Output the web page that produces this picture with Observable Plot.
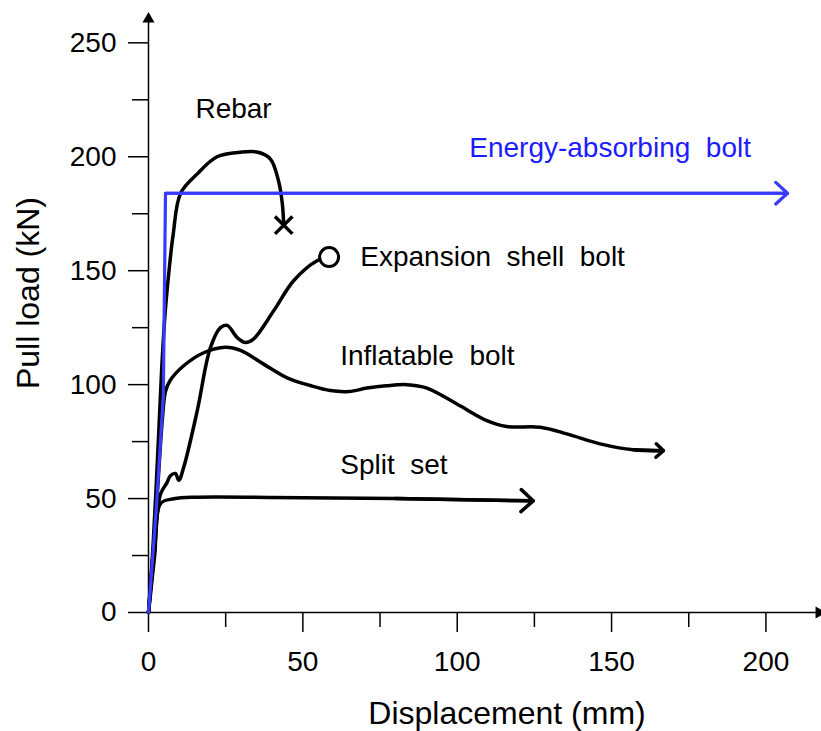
<!DOCTYPE html>
<html><head><meta charset="utf-8">
<script src="https://cdn.jsdelivr.net/npm/d3@7"></script>
<script src="https://cdn.jsdelivr.net/npm/@observablehq/plot@0.6"></script>
<style>body{margin:0;background:#fff} svg{display:block}</style>
</head><body><div id="chart"></div>
<script>
// Axis ticks
const xTicks = [0, 50, 100, 150, 200];
const xMinor = [25, 75, 125, 175];
const yTicks = [0, 50, 100, 150, 200, 250];
const yMinor = [25, 75, 125, 175, 225];
const xMax = 218, yMax = 262;

// Series (displacement mm, load kN)
const rebarX = [0, 1.5, 3, 4.2, 5.3, 6.5, 8, 10.4, 15.8, 22.2, 29.8, 35.5, 39.5, 42, 43.3, 43.8];
const rebarY = [0, 30, 70, 105, 130, 148, 166, 184, 192.5, 200, 202, 202, 199, 190, 180, 170];

const expX = [0, 2, 3.9, 6, 7.1, 8.7, 9.8, 11.4, 15.8, 20, 23.3, 25.5, 28.7, 31.4, 34, 40.6, 47, 54.6, 58.5];
const expY = [0, 28, 52, 57, 60, 61, 58, 63.7, 88.6, 116, 125, 126, 120.7, 118.5, 120, 132.5, 145.6, 154.4, 156];

const infX = [0, 2.5, 4.5, 5.5, 7.1, 11.4, 17.9, 24.9, 29.8, 37.3, 44.9, 52.4, 58.9, 65, 70.8, 77, 83.7, 90.2, 99.9, 109.6, 116, 126.9, 135.5, 146.3, 157.1, 166.8];
const infY = [0, 45, 85, 97, 102, 108.3, 114, 116.4, 115, 109, 103, 99.6, 97.4, 97, 98.5, 99.5, 100, 98.5, 91.5, 84.2, 81.6, 81.3, 78.4, 74, 71.4, 71];

const splitX = [0, 2, 3.9, 8.2, 15.8, 40, 80, 124.6];
const splitY = [0, 25, 47.8, 49.9, 50.6, 50.5, 50, 49];

const eabX = [0, 2.5, 4.8, 5.5, 207];
const eabY = [0, 45, 95, 184, 184];

// Annotations
const labelText = ["Rebar", "Energy-absorbing  bolt", "Expansion  shell  bolt", "Inflatable  bolt", "Split  set"];
const labelX = [15.2, 103.9, 68.6, 62.1, 62.1];
const labelY = [221, 204, 156, 112.7, 64.5];
const labelColor = ["black", "#1c1cff", "black", "black", "black"];

const pts = (xs, ys) => xs.map((x, i) => ({x, y: ys[i]}));
const rebar = pts(rebarX, rebarY), exp = pts(expX, expY), inf = pts(infX, infY),
      split = pts(splitX, splitY), eab = pts(eabX, eabY);
const tailArrow = (d) => [{x1: d[d.length - 2].x, y1: d[d.length - 2].y, x2: d[d.length - 1].x, y2: d[d.length - 1].y}];
const labels = labelText.map((t, i) => ({t, x: labelX[i], y: labelY[i], c: labelColor[i]}));

const black = "#000";
const lw = 3.5;
const blue = "#3a3aff";

const chart = Plot.plot({
  width: 821, height: 731,
  marginLeft: 148, marginRight: 0, marginTop: 15, marginBottom: 119,
  x: {domain: [0, xMax]},
  y: {domain: [0, yMax]},
  style: {fontFamily: "'Liberation Sans', Arial, sans-serif", background: "#fff", color: "#000"},
  marks: [
    // axes
    Plot.ruleX([0], {y1: 0, y2: yMax - 2, strokeWidth: 1.5}),
    Plot.ruleY([0], {x1: 0, x2: xMax - 1, strokeWidth: 1.5}),
    Plot.dot([{x: 0, y: yMax - 1.5}], {x: "x", y: "y", symbol: "triangle", r: 4.5, fill: black, stroke: null}),
    Plot.dot([{x: xMax - 0.8, y: 0}], {x: "x", y: "y", symbol: "triangle", rotate: 90, r: 4.5, fill: black, stroke: null}),
    Plot.axisX({ticks: xTicks, tickSize: 20, tickPadding: 19, fontSize: 28, label: null, strokeWidth: 1.5}),
    Plot.axisX({ticks: xMinor, tickSize: 15, tickFormat: () => "", label: null, strokeWidth: 1.5}),
    Plot.axisY({ticks: yTicks, tickSize: 20, tickPadding: 12, fontSize: 28, label: null, strokeWidth: 1.5}),
    Plot.axisY({ticks: yMinor, tickSize: 16, tickFormat: () => "", label: null, strokeWidth: 1.5}),
    Plot.text(["Displacement (mm)"], {frameAnchor: "bottom", dx: 22, dy: 101, fontSize: 32, textAnchor: "middle", lineAnchor: "middle"}),
    Plot.text(["Pull load (kN)"], {frameAnchor: "left", dx: -120, dy: -21, rotate: -90, fontSize: 32, textAnchor: "middle", lineAnchor: "middle"}),
    // series
    Plot.line(split, {x: "x", y: "y", stroke: black, strokeWidth: lw, curve: "catmull-rom"}),
    Plot.arrow(tailArrow(split), {x1: "x1", y1: "y1", x2: "x2", y2: "y2", stroke: black, strokeWidth: lw, headLength: 7, headAngle: 85}),
    Plot.line(inf, {x: "x", y: "y", stroke: black, strokeWidth: lw, curve: "catmull-rom"}),
    Plot.arrow(tailArrow(inf), {x1: "x1", y1: "y1", x2: "x2", y2: "y2", stroke: black, strokeWidth: lw, headLength: 7, headAngle: 85}),
    Plot.line(exp, {x: "x", y: "y", stroke: black, strokeWidth: lw, curve: "catmull-rom"}),
    Plot.line(rebar, {x: "x", y: "y", stroke: black, strokeWidth: lw, curve: "catmull-rom"}),
    Plot.line(eab, {x: "x", y: "y", stroke: blue, strokeWidth: 3.2}),
    Plot.arrow(tailArrow(eab), {x1: "x1", y1: "y1", x2: "x2", y2: "y2", stroke: blue, strokeWidth: 3.2, headLength: 7.5, headAngle: 85}),
    Plot.dot([rebar[rebar.length - 1]], {x: "x", y: "y", symbol: "times", r: 8, stroke: black, strokeWidth: 3.5}),
    Plot.dot([exp[exp.length - 1]], {x: "x", y: "y", symbol: "circle", r: 9.5, fill: "#fff", stroke: black, strokeWidth: 3}),
    // labels
    Plot.text(labels, {x: "x", y: "y", text: "t", fill: "c", textAnchor: "start", lineAnchor: "middle", fontSize: 28})
  ]
});
chart.querySelectorAll("text").forEach(t => t.style.whiteSpace = "pre");
document.getElementById("chart").appendChild(chart);
</script>
</body></html>
